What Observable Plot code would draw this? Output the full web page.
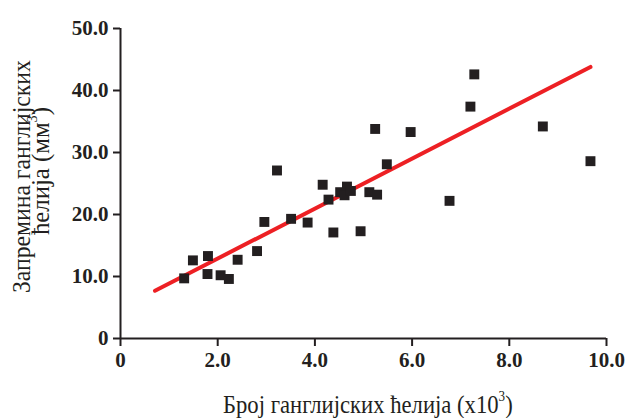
<!DOCTYPE html>
<html><head><meta charset="utf-8">
<script src="https://cdn.jsdelivr.net/npm/d3@7"></script>
<script src="https://cdn.jsdelivr.net/npm/@observablehq/plot@0.6"></script>
<style>body{margin:0;background:#fff}</style>
</head><body><div id="chart"></div>
<script>
// Broj ganglijskih ćelija (x10^3)
const cellCount = [1.31, 1.49, 1.80, 1.79, 2.06, 2.23, 2.41, 2.81, 2.96, 3.22,
                   3.51, 3.85, 4.16, 4.28, 4.38, 4.52, 4.66, 4.61, 4.74, 4.94,
                   5.12, 5.28, 5.24, 5.48, 5.97, 6.77, 7.20, 7.28, 8.69, 9.67];
// Zapremina ganglijskih ćelija (mm^3)
const volume    = [9.7, 12.6, 13.3, 10.4, 10.2, 9.6, 12.7, 14.1, 18.8, 27.1,
                   19.3, 18.7, 24.8, 22.4, 17.1, 23.6, 24.5, 23.1, 23.8, 17.3,
                   23.6, 23.2, 33.8, 28.1, 33.3, 22.2, 37.4, 42.6, 34.2, 28.6];
// regression line end points
const fitX = [0.71, 9.67];
const fitY = [7.7, 43.8];
const xTicks = [0, 2, 4, 6, 8, 10];
const yTicks = [0, 10, 20, 30, 40, 50];
const xTitle = "Број ганглијских ћелија (x10";
const yTitle1 = "Запремина ганглијских";
const yTitle2 = "ћелија (мм";

const points = cellCount.map((x, i) => ({x, y: volume[i]}));
const fit = fitX.map((x, i) => ({x, y: fitY[i]}));
const fmt = d => d === 0 ? "0" : d.toFixed(1);
const ink = "#231f20";

const svg = Plot.plot({
  width: 638,
  height: 418,
  marginLeft: 120,
  marginRight: 32,
  marginTop: 28,
  marginBottom: 80,
  style: {fontFamily: "'Liberation Serif', 'Times New Roman', serif", fontSize: "21px", fontWeight: "bold", color: ink, background: "#fff"},
  x: {domain: [0, 10]},
  y: {domain: [0, 50]},
  marks: [
    Plot.axisX({ticks: xTicks, tickFormat: fmt, tickSize: 8, tickPadding: 6, strokeWidth: 2, label: null}),
    Plot.axisY({ticks: yTicks, tickFormat: fmt, tickSize: 7, tickPadding: 5, strokeWidth: 2, label: null}),
    Plot.ruleY([0], {stroke: ink, strokeWidth: 2}),
    Plot.ruleX([0], {stroke: ink, strokeWidth: 2}),
    Plot.line(fit, {x: "x", y: "y", stroke: "#ed2024", strokeWidth: 4}),
    Plot.dot(points, {x: "x", y: "y", symbol: "square", r: 5.6, fill: ink, stroke: "none"})
  ]
});
document.getElementById("chart").appendChild(svg);

const s = d3.select(svg);
const lab = s.append("g")
  .attr("fill", ink)
  .attr("text-anchor", "start")
  .attr("font-family", "'Liberation Serif', 'Times New Roman', serif")
  .attr("font-weight", "normal")
  .attr("font-size", 26);

function title(text, pos, target, rotate, sup) {
  const t = lab.append("text");
  t.append("tspan").text(text);
  if (sup) {
    t.append("tspan").attr("dy", -12).attr("font-size", 15).text("3");
    t.append("tspan").attr("dy", 12).text(")");
  }
  const w = t.node().getBBox().width;
  const k = target / w;
  t.attr("transform", `translate(${pos[0]},${pos[1]})${rotate ? " rotate(-90)" : ""} scale(${k},1)`);
  return t;
}
title(xTitle, [223, 413], 290, false, true);
title(yTitle1, [30, 293], 233, true, false);
title(yTitle2, [48.5, 235], 128, true, true);
</script>
</body></html>
